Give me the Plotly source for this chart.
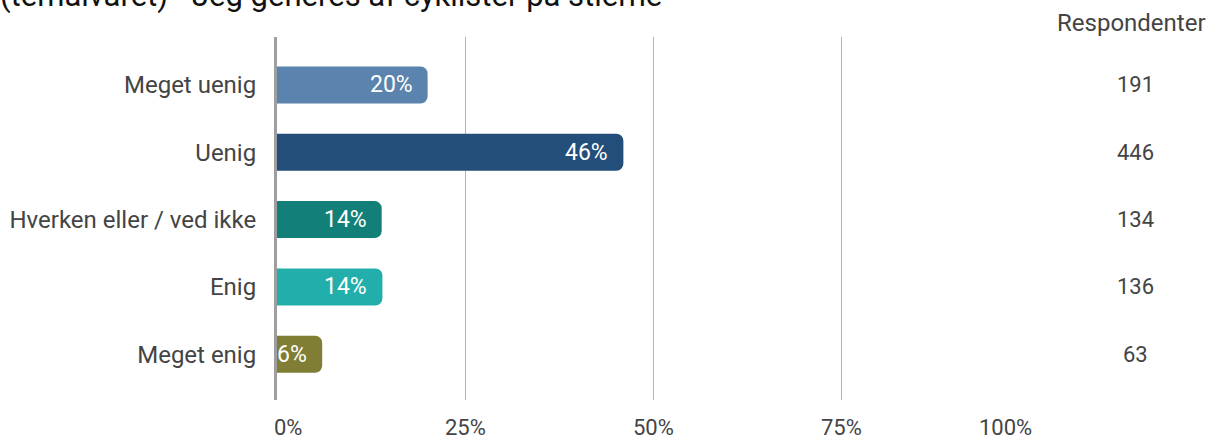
import plotly.graph_objects as go

categories = ["Meget uenig", "Uenig", "Hverken eller / ved ikke", "Enig", "Meget enig"]
percent_values = [20.0, 46.0, 13.9, 14.0, 6.0]
percent_labels = ["20%", "46%", "14%", "14%", "6%"]
respondents = [191, 446, 134, 136, 63]
bar_colors = ["#5a83ad", "#224e79", "#127f79", "#22aeaa", "#807d35"]
x_ticks = [0, 25, 50, 75, 100]
x_tick_labels = ["0%", "25%", "50%", "75%", "100%"]
title_text = "(temaivaret) - Jeg generes af cyklister på stierne"
respondent_header = "Respondenter"

FONT = "Roboto"
LABEL_COLOR = "#444444"

fig = go.Figure()
fig.add_trace(go.Bar(
    x=percent_values,
    y=categories,
    orientation="h",
    marker=dict(color=bar_colors, line=dict(width=0)),
    hoverinfo="skip",
    showlegend=False,
))

annotations = []
# labels inside bars
for cat, val, lab in zip(categories, percent_values, percent_labels):
    annotations.append(dict(
        x=val, y=cat, xref="x", yref="y", text=lab, showarrow=False,
        xanchor="right", yanchor="middle", xshift=-13,
        font=dict(family=FONT, size=23, color="white"),
    ))
# respondent counts
for cat, n in zip(categories, respondents):
    annotations.append(dict(
        x=1.14, y=cat, xref="paper", yref="y", text=str(n), showarrow=False,
        xanchor="center", yanchor="middle",
        font=dict(family=FONT, size=22, color=LABEL_COLOR),
    ))
annotations.append(dict(
    x=(1131 - 277) / 753, y=1.0386, xref="paper", yref="paper", text=respondent_header,
    showarrow=False, xanchor="center", yanchor="middle",
    font=dict(family=FONT, size=24, color=LABEL_COLOR),
))
# x tick labels (clamped inside plot like the original)
for i, (tv, tl) in enumerate(zip(x_ticks, x_tick_labels)):
    anchor, shift = "center", 0
    if i == 0:
        anchor, shift = "left", -5
    elif i == len(x_ticks) - 1:
        anchor, shift = "right", 4
    annotations.append(dict(
        x=tv, y=-0.0744, xref="x", yref="paper", text=tl, showarrow=False,
        xanchor=anchor, yanchor="middle", xshift=shift,
        font=dict(family=FONT, size=22, color=LABEL_COLOR),
    ))
# title (cut off at the top as in the reference)
annotations.append(dict(
    x=(664 - 277) / 753, y=1.058, xref="paper", yref="paper", text=title_text,
    showarrow=False, xanchor="right", yanchor="bottom",
    font=dict(family=FONT, size=31, color="#111111"),
))

fig.update_layout(
    width=1222, height=442,
    margin=dict(l=277, r=192, t=37, b=42, pad=0, autoexpand=False),
    plot_bgcolor="white", paper_bgcolor="white",
    bargap=0.45,
    barcornerradius=7,
    annotations=annotations,
    font=dict(family=FONT, color=LABEL_COLOR),
    xaxis=dict(
        range=[0, 100], tickvals=x_ticks, showticklabels=False,
        showgrid=True, gridcolor="#b4b4b4", gridwidth=1,
        zeroline=False, showline=False, fixedrange=True, automargin=False,
    ),
    yaxis=dict(
        categoryorder="array", categoryarray=categories,
        range=[4.68, -0.713],
        showgrid=False, zeroline=False,
        showline=True, linecolor="#9e9e9e", linewidth=3,
        ticks="outside", ticklen=13, tickcolor="rgba(0,0,0,0)",
        tickfont=dict(family=FONT, size=24, color=LABEL_COLOR),
        fixedrange=True, automargin=False,
    ),
)

fig.write_html(
    "out.html",
    config={"displayModeBar": False},
    post_script="document.body.style.margin='0';document.body.style.overflow='hidden';",
)
